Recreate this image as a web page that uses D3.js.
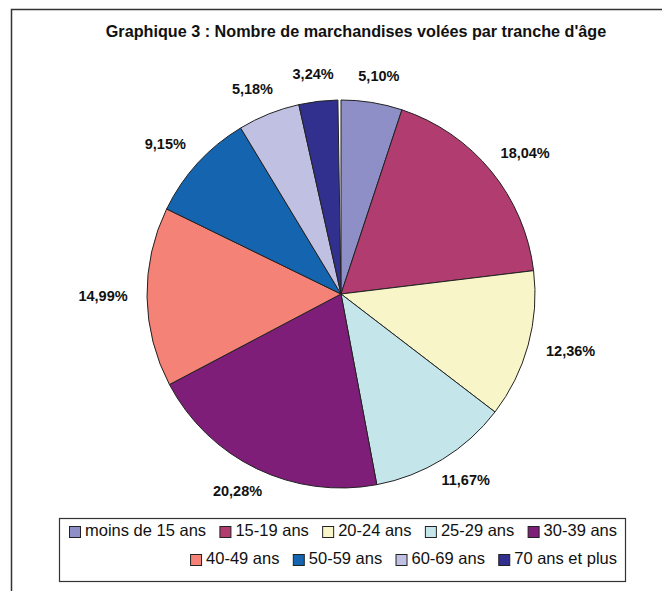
<!DOCTYPE html>
<html>
<head>
<meta charset="utf-8">
<script src="https://cdn.jsdelivr.net/npm/d3@7"></script>
<style>
  body { margin: 0; background: #fff; }
  svg { display: block; font-family: "Liberation Sans", Arial, Helvetica, sans-serif; }
</style>
</head>
<body>
<div id="chart"></div>
<script>
// données
const categories = ["moins de 15 ans", "15-19 ans", "20-24 ans", "25-29 ans", "30-39 ans",
                    "40-49 ans", "50-59 ans", "60-69 ans", "70 ans et plus"];
const values = [5.10, 18.04, 12.36, 11.67, 20.28, 14.99, 9.15, 5.18, 3.24];
const labels = ["5,10%", "18,04%", "12,36%", "11,67%", "20,28%", "14,99%", "9,15%", "5,18%", "3,24%"];
const colors = ["#8f8fc8", "#b03c70", "#f8f6c8", "#c4e6ea", "#7e1e78",
                "#f48276", "#1464b0", "#c0c0e2", "#32308e"];
const title = "Graphique 3 : Nombre de marchandises volées par tranche d'âge";

const width = 662, height = 591;
const cx = 341, cy = 294, r = 194;

const svg = d3.select("#chart").append("svg")
    .attr("width", width)
    .attr("height", height);

// cadre (haut + gauche seulement)
svg.append("path")
    .attr("d", `M11.5,${height} L11.5,9.5 L${width},9.5`)
    .attr("fill", "none")
    .attr("stroke", "#333")
    .attr("stroke-width", 1.5);

svg.append("text")
    .attr("x", 356)
    .attr("y", 33)
    .attr("text-anchor", "middle")
    .attr("dominant-baseline", "middle")
    .attr("font-size", 16.2)
    .attr("font-weight", "bold")
    .attr("fill", "#111")
    .text(title);

const data = categories.map((c, i) => ({ name: c, value: values[i], label: labels[i], color: colors[i] }));

const pie = d3.pie()
    .sort(null)
    .value(d => d.value)
    .startAngle(0)
    .endAngle(2 * Math.PI - 0.016);

const arcs = pie(data);
const arc = d3.arc().innerRadius(0).outerRadius(r);

const g = svg.append("g").attr("transform", `translate(${cx},${cy})`);

g.selectAll("path")
    .data(arcs)
    .enter()
    .append("path")
    .attr("d", arc)
    .attr("fill", d => d.data.color)
    .attr("stroke", "#222")
    .attr("stroke-width", 1);

// étiquettes
g.selectAll("text.lbl")
    .data(arcs)
    .enter()
    .append("text")
    .attr("class", "lbl")
    .attr("x", d => {
        const a = (d.startAngle + d.endAngle) / 2;
        return Math.sin(a) * (r + 44);
    })
    .attr("y", d => {
        const a = (d.startAngle + d.endAngle) / 2;
        return -Math.cos(a) * (r + 26);
    })
    .attr("text-anchor", "middle")
    .attr("dominant-baseline", "middle")
    .attr("font-size", 14.5)
    .attr("font-weight", "bold")
    .attr("fill", "#111")
    .text(d => d.data.label);

// légende
const legX = 59.5, legY = 518.5, legW = 566, legH = 63;
svg.append("rect")
    .attr("x", legX)
    .attr("y", legY)
    .attr("width", legW)
    .attr("height", legH)
    .attr("fill", "#fff")
    .attr("stroke", "#333")
    .attr("stroke-width", 1.2);

const rows = [data.slice(0, 5), data.slice(5)];
const rowY = [532, 560];
const sw = 12, gapText = 4, leftEdge = 69, rightEdge = 617;

function buildRow(items, y) {
    const row = svg.append("g");
    return items.map(d => {
        const it = row.append("g");
        it.append("rect")
            .attr("x", 0.5)
            .attr("y", y - sw / 2 + 0.5)
            .attr("width", sw - 1)
            .attr("height", sw - 1)
            .attr("fill", d.color)
            .attr("stroke", "#222")
            .attr("stroke-width", 1);
        const t = it.append("text")
            .attr("x", sw + gapText)
            .attr("y", y)
            .attr("dominant-baseline", "middle")
            .attr("font-size", 16.5)
            .attr("fill", "#111")
            .text(d.name);
        return { it, w: sw + gapText + t.node().getComputedTextLength() };
    });
}

// première ligne : justifiée sur toute la largeur
const row1 = buildRow(rows[0], rowY[0]);
const gapItem = (rightEdge - leftEdge - d3.sum(row1, o => o.w)) / (row1.length - 1);
let x1 = leftEdge;
row1.forEach(o => { o.it.attr("transform", `translate(${x1},0)`); x1 += o.w + gapItem; });

// deuxième ligne : alignée à droite
const row2 = buildRow(rows[1], rowY[1]);
let x2 = rightEdge - d3.sum(row2, o => o.w) - gapItem * (row2.length - 1);
row2.forEach(o => { o.it.attr("transform", `translate(${x2},0)`); x2 += o.w + gapItem; });
</script>
</body>
</html>
